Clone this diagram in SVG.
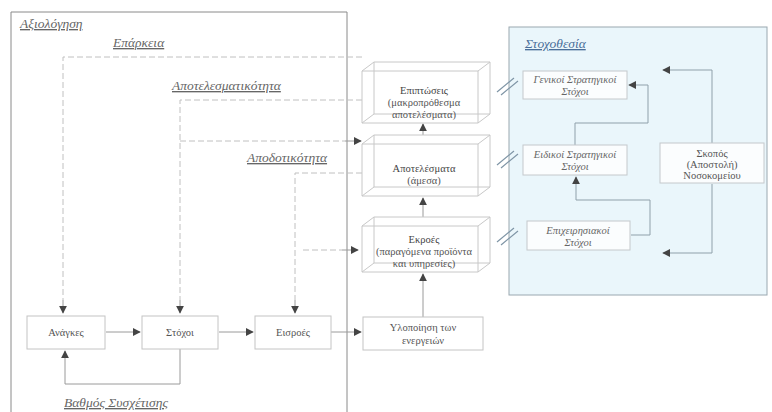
<svg xmlns="http://www.w3.org/2000/svg" width="772" height="412" viewBox="0 0 772 412">
<defs>
<marker id="ah" viewBox="0 0 10 10" refX="9" refY="5" markerWidth="8" markerHeight="8" markerUnits="userSpaceOnUse" orient="auto"><path d="M0,0 L10,5 L0,10 z" fill="#444"/></marker>
<style>
.frame{fill:none;stroke:#8a8a8a;stroke-width:1}
.box{fill:#fff;stroke:#c4c4c4;stroke-width:1}
.bbox{fill:#fbfdfe;stroke:#c4c8cc;stroke-width:1}
.cube{fill:none;stroke:#c8c8c8;stroke-width:1}
.ln{fill:none;stroke:#9a9a9a;stroke-width:1}
.dl{fill:none;stroke:#c0c0c0;stroke-width:1;stroke-dasharray:6 3}
.bl{fill:none;stroke:#8fa0aa;stroke-width:1}
.t{font-family:"Liberation Serif","DejaVu Serif",serif;font-size:10.5px;fill:#555;text-anchor:middle}
.ti{font-family:"Liberation Serif","DejaVu Serif",serif;font-size:10.5px;fill:#666;text-anchor:middle;font-style:italic}
.lab{font-family:"Liberation Serif","DejaVu Serif",serif;font-size:13.5px;fill:#666;font-style:italic;text-decoration:underline}
.link{fill:none;stroke:#7f95a6;stroke-width:1.2}
</style>
</defs>

<!-- frames -->
<g id="frame-axiologisi">
<path class="frame" d="M11,412 V12 H347 V412"/>
<text class="lab" x="20" y="28">Αξιολόγηση</text>
</g>
<g id="frame-stoxothesia">
<rect x="509" y="27" width="258" height="268" fill="#eaf6fb" stroke="#9aa8b0"/>
<text class="lab" x="525" y="48" style="fill:#4a6f9a">Στοχοθεσία</text>
</g>

<!-- connectors -->
<g id="connectors">
<path class="dl" d="M362,57 H63 V300"/>
<path class="ln" d="M63,300 V313" marker-end="url(#ah)"/>
<path class="dl" d="M362,100 H180 V300"/>
<path class="ln" d="M180,300 V313" marker-end="url(#ah)"/>
<path class="dl" d="M180,141 H345"/>
<path class="ln" d="M345,141 H361" marker-end="url(#ah)"/>
<path class="dl" d="M362,173 H295 V300"/>
<path class="ln" d="M295,300 V313" marker-end="url(#ah)"/>
<path class="dl" d="M303,250 H342"/>
<path class="ln" d="M342,250 H358" marker-end="url(#ah)"/>
<path class="ln" d="M106,332 H140" marker-end="url(#ah)"/>
<path class="ln" d="M219,332 H253" marker-end="url(#ah)"/>
<path class="ln" d="M331,332 H361" marker-end="url(#ah)"/>
<path class="ln" d="M180,349 V384 H65 V351" marker-end="url(#ah)"/>
<path class="ln" d="M423,317 V274" marker-end="url(#ah)"/>
<path class="ln" d="M423,217 V198" marker-end="url(#ah)"/>
<path class="ln" d="M423,135 V124" marker-end="url(#ah)"/>
<path class="bl" d="M712,143 V70 H663" marker-end="url(#ah)"/>
<path class="bl" d="M575,145 V123 H648 V85 H629" marker-end="url(#ah)"/>
<path class="bl" d="M631,235 H650 V200 H576 V177" marker-end="url(#ah)"/>
<path class="bl" d="M712,184 V253 H663" marker-end="url(#ah)"/>
<path class="link" d="M497,92 L514,78 M501,95 L518,81"/>
<path class="link" d="M497,165 L514,151 M501,168 L518,154"/>
<path class="link" d="M497,242 L514,228 M501,245 L518,231"/>
</g>

<!-- labels -->
<g id="labels">
<text class="lab" x="113" y="47">Επάρκεια</text>
<text class="lab" x="172" y="90">Αποτελεσματικότητα</text>
<text class="lab" x="247" y="162">Αποδοτικότητα</text>
<text class="lab" x="64" y="407">Βαθμός Συσχέτισης</text>
</g>

<g id="node-anagkes"><rect class="box" x="27" y="316" width="78" height="33"/><text class="t" x="66" y="336">Ανάγκες</text></g>
<g id="node-stoxoi"><rect class="box" x="142" y="316" width="76" height="33"/><text class="t" x="180" y="336">Στόχοι</text></g>
<g id="node-eisroes"><rect class="box" x="255" y="316" width="76" height="33"/><text class="t" x="293" y="336">Εισροές</text></g>
<g id="node-ylopoiisi"><rect class="box" x="363" y="317" width="120" height="33"/><text class="t" x="423" y="331">Υλοποίηση των</text><text class="t" x="423" y="344">ενεργειών</text></g>

<g id="node-epiptoseis">
<path class="cube" d="M374,62 H490 V114 H374 Z M362,71 H478 V123 H362 Z M362,71 L374,62 M478,71 L490,62 M478,123 L490,114 M362,123 L374,114"/>
<text class="t" x="424" y="94" style="fill:#444">Επιπτώσεις</text>
<text class="t" x="424" y="106">(μακροπρόθεσμα</text>
<text class="t" x="424" y="118">αποτελέσματα)</text>
</g>
<g id="node-apotelesmata">
<path class="cube" d="M374,135 H490 V187 H374 Z M362,144 H478 V196 H362 Z M362,144 L374,135 M478,144 L490,135 M478,196 L490,187 M362,196 L374,187"/>
<text class="t" x="424" y="172" style="fill:#444">Αποτελέσματα</text>
<text class="t" x="424" y="184">(άμεσα)</text>
</g>
<g id="node-ekroes">
<path class="cube" d="M374,217 H490 V263 H374 Z M362,226 H478 V272 H362 Z M362,226 L374,217 M478,226 L490,217 M478,272 L490,263 M362,272 L374,263"/>
<text class="t" x="424" y="243" style="fill:#444">Εκροές</text>
<text class="t" x="424" y="255">(παραγόμενα προϊόντα</text>
<text class="t" x="424" y="267">και υπηρεσίες)</text>
</g>

<g id="node-genikoi"><rect class="bbox" x="523" y="71" width="104" height="28"/><text class="ti" x="575" y="83">Γενικοί Στρατηγικοί</text><text class="ti" x="575" y="95">Στόχοι</text></g>
<g id="node-eidikoi"><rect class="bbox" x="523" y="145" width="104" height="30"/><text class="ti" x="575" y="158">Ειδικοί Στρατηγικοί</text><text class="ti" x="575" y="170">Στόχοι</text></g>
<g id="node-epixeirisiakoi"><rect class="bbox" x="527" y="221" width="103" height="29"/><text class="ti" x="578" y="234">Επιχειρησιακοί</text><text class="ti" x="578" y="246">Στόχοι</text></g>
<g id="node-skopos"><rect class="bbox" x="660" y="143" width="104" height="40"/><text class="t" x="712" y="157">Σκοπός</text><text class="t" x="712" y="168">(Αποστολή)</text><text class="t" x="712" y="179">Νοσοκομείου</text></g>
</svg>
